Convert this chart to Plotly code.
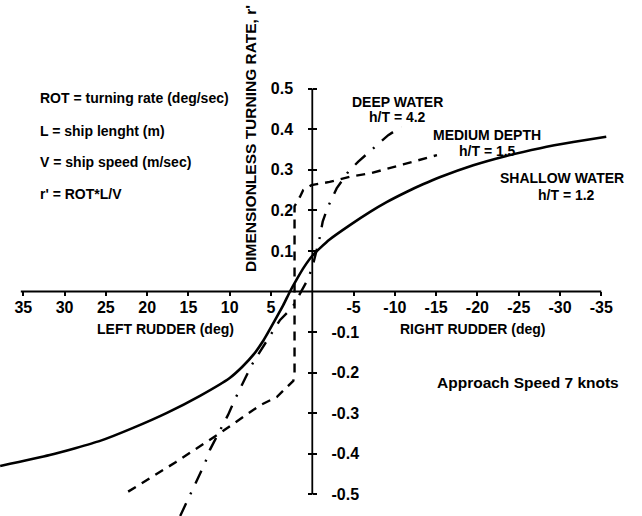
import plotly.graph_objects as go

# ---------------- data ----------------
x_tick_vals = [35, 30, 25, 20, 15, 10, 5, -5, -10, -15, -20, -25, -30, -35]
x_tick_text = ["35", "30", "25", "20", "15", "10", "5", "-5", "-10", "-15", "-20", "-25", "-30", "-35"]
y_tick_vals = [0.5, 0.4, 0.3, 0.2, 0.1, -0.1, -0.2, -0.3, -0.4, -0.5]
y_pos_text = ["0.5", "0.4", "0.3", "0.2", "0.1", "", "", "", "", ""]
y_neg_text = ["", "", "", "", "", "-0.1", "-0.2", "-0.3", "-0.4", "-0.5"]

# Shallow water h/T = 1.2 (solid)
shallow_rudder = [37.8, 31.8, 25.7, 21.7, 17.6, 13.6, 10.0, 8.5, 7.1, 5.9, 4.5, 3.5, 2.7, 1.8, 1.0, 0.0,
                  -1.0, -2.1, -4.6, -7.0, -9.0, -11.4, -13.4, -15.5, -19.5, -23.5, -27.6, -31.6, -35.6]
shallow_rate = [-0.430, -0.403, -0.368, -0.336, -0.299, -0.257, -0.213, -0.186, -0.155, -0.120, -0.070,
                -0.033, 0.0, 0.033, 0.060, 0.088, 0.108, 0.128, 0.164, 0.196, 0.220, 0.245, 0.264, 0.282,
                0.311, 0.334, 0.353, 0.368, 0.381]

# Medium depth h/T = 1.5 (dashed)
medium_rudder = [22.3, 16.5, 11.2, 6.3, 4.3, 2.3, 2.15, 2.15, 1.5, 1.1, 0.1, -2.1, -4.6, -7.0, -11.0, -15.1]
medium_rate = [-0.493, -0.420, -0.349, -0.280, -0.260, -0.220, -0.200, 0.210, 0.233, 0.250, 0.262,
               0.270, 0.283, 0.291, 0.313, 0.336]

# Deep water h/T = 4.2 (dash-dot)
deep_rudder = [16.0, 14.0, 13.0, 12.4, 10.2, 9.4, 8.36, 7.34, 6.33, 3.9, 2.4, 0.48, -0.12, -0.85,
               -1.26, -1.82, -2.95, -4.36, -5.57, -7.39, -9.2, -10.8]
deep_rate = [-0.553, -0.468, -0.423, -0.390, -0.304, -0.267, -0.222, -0.181, -0.148, -0.070, -0.039,
             0.032, 0.069, 0.128, 0.172, 0.205, 0.254, 0.295, 0.320, 0.353, 0.385, 0.406]

# ---------------- figure ----------------
W, H = 642, 516
X_RANGE = [37.82, -39.93]
Y_RANGE = [-0.553, 0.718]
FONT = "Liberation Sans, Arial, sans-serif"

x_axis_pos = (0 - X_RANGE[0]) / (X_RANGE[1] - X_RANGE[0])
y_axis_pos = (0 - Y_RANGE[0]) / (Y_RANGE[1] - Y_RANGE[0])

fig = go.Figure()
fig.add_trace(go.Scatter(x=shallow_rudder, y=shallow_rate, mode="lines",
                         line=dict(color="black", width=2.6, shape="spline", smoothing=0.5),
                         showlegend=False, hoverinfo="skip"))
fig.add_trace(go.Scatter(x=medium_rudder, y=medium_rate, mode="lines",
                         line=dict(color="black", width=2.4, dash="9px,7px"), showlegend=False, hoverinfo="skip"))
fig.add_trace(go.Scatter(x=deep_rudder, y=deep_rate, mode="lines",
                         line=dict(color="black", width=2.4, dash="14px,10px,2px,10px"),
                         showlegend=False, hoverinfo="skip"))
# invisible trace to activate the second y axis
fig.add_trace(go.Scatter(x=[0], y=[0], yaxis="y2", mode="markers", marker=dict(opacity=0),
                         showlegend=False, hoverinfo="skip"))

# axis lines crossing at the origin
fig.add_shape(type="line", xref="x", yref="y", x0=35.3, x1=-35.0, y0=0, y1=0,
              line=dict(color="black", width=1.8))
fig.add_shape(type="line", xref="x", yref="y", x0=0, x1=0, y0=-0.5, y1=0.5,
              line=dict(color="black", width=1.8))

tickfont = dict(family=FONT, size=16, color="black", weight="bold")
fig.update_layout(
    width=W, height=H,
    margin=dict(l=0, r=0, t=0, b=0, pad=0),
    paper_bgcolor="white", plot_bgcolor="white",
    xaxis=dict(range=X_RANGE, anchor="free", position=y_axis_pos, showgrid=False, zeroline=False,
               showline=False, tickmode="array", tickvals=x_tick_vals, ticktext=x_tick_text,
               ticks="outside", ticklen=4, tickwidth=1.5, tickcolor="black", tickfont=tickfont,
               ticklabelstandoff=-3),
    yaxis=dict(range=Y_RANGE, anchor="free", position=x_axis_pos, side="left", showgrid=False,
               zeroline=False, showline=False, tickmode="array", tickvals=y_tick_vals,
               ticktext=y_pos_text, ticks="outside", ticklen=4, tickwidth=1.5, tickcolor="black",
               tickfont=tickfont, ticklabelstandoff=12),
    yaxis2=dict(range=Y_RANGE, overlaying="y", anchor="free", position=x_axis_pos, side="right",
                showgrid=False, zeroline=False, showline=False, tickmode="array", tickvals=y_tick_vals,
                ticktext=y_neg_text, ticks="outside", ticklen=4, tickwidth=1.5, tickcolor="black",
                tickfont=tickfont, ticklabelstandoff=11),
)

def px(x, y):
    return x / W, 1 - y / H

def note(text, x, y, size=14, xanchor="center", angle=0):
    ax, ay = px(x, y)
    fig.add_annotation(text=text, x=ax, y=ay, xref="paper", yref="paper", showarrow=False,
                       xanchor=xanchor, yanchor="middle", textangle=angle,
                       font=dict(family=FONT, size=size, color="black", weight="bold"))

note("ROT = turning rate (deg/sec)", 38, 98, xanchor="left")
note("L = ship lenght (m)", 38, 131, xanchor="left")
note("V = ship speed (m/sec)", 38, 162, xanchor="left")
note("r' = ROT*L/V", 38, 194, xanchor="left")
note("DIMENSIONLESS TURNING RATE, r'", 250, 139, size=15.5, angle=-90)
note("DEEP WATER", 397, 102)
note("h/T = 4.2", 397, 117)
note("MEDIUM DEPTH", 487, 135)
note("h/T = 1.5", 487, 151)
note("SHALLOW WATER", 562, 178)
note("h/T = 1.2", 566, 195)
note("LEFT RUDDER (deg)", 166, 329)
note("RIGHT RUDDER (deg)", 472, 329)
note("Approach Speed 7 knots", 528, 382, size=15.5)

fig.write_html("out.html", config={"displayModeBar": False},
               post_script="document.body.style.margin='0';")
